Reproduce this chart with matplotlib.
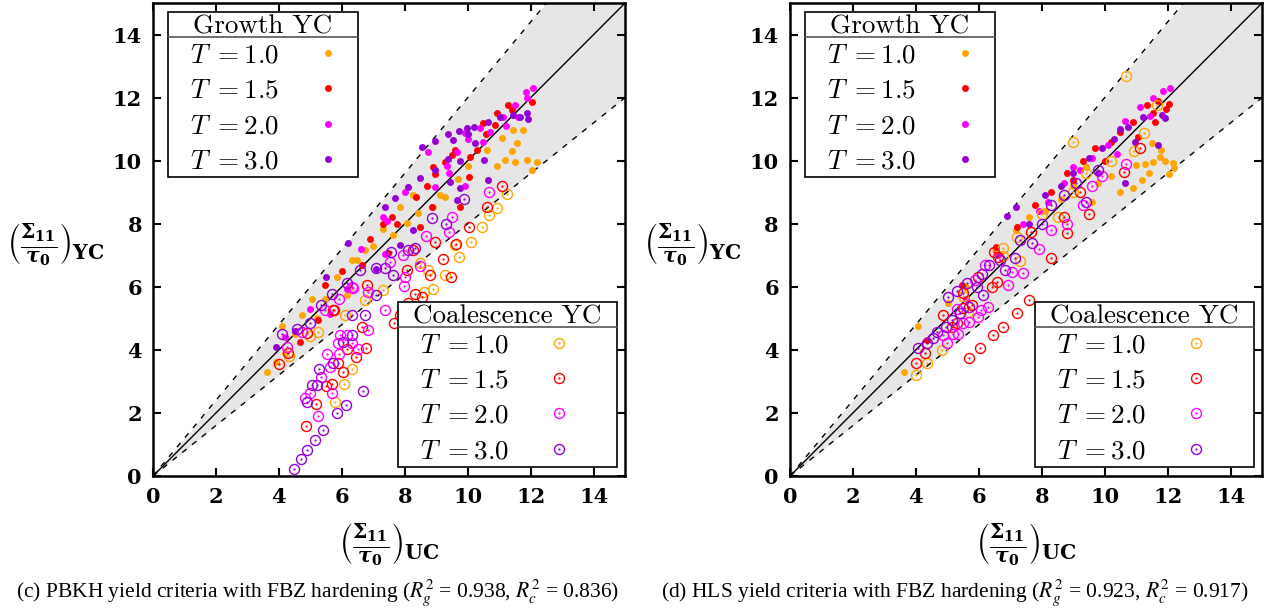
import matplotlib
matplotlib.use("Agg")
import matplotlib.pyplot as plt
import numpy as np
from matplotlib.legend_handler import HandlerTuple
from matplotlib.lines import Line2D

plt.rcParams['mathtext.fontset'] = 'cm'
plt.rcParams['font.family'] = ['DejaVu Serif']

temps = ["1.0", "1.5", "2.0", "3.0"]
colors = ["#FFA500", "#FF0000", "#FF00FF", "#9400D3"]

# (c) PBKH - growth yield criteria, (x, y) per temperature
pbkh_growth = {
    "1.0": [(3.62, 3.3), (3.9, 3.6), (4.19, 3.9), (4.1, 4.76), (4.5, 4.5), (4.75, 5.1), (5.05, 5.62),
            (5.46, 5.62), (5.2, 5.0), (5.84, 6.32), (6.16, 5.75), (6.25, 5.97), (6.32, 6.86), (6.48, 6.86),
            (6.73, 7.17), (7.0, 7.3), (7.3, 7.84), (7.62, 7.65), (7.84, 8.54), (8.06, 8.03), (8.25, 8.92),
            (8.41, 8.35), (8.89, 8.54), (9.11, 8.92), (9.27, 8.86), (9.68, 9.43), (10.0, 9.84), (10.6, 10.35),
            (10.92, 9.84), (11.1, 10.73), (11.17, 10.03), (11.4, 10.3), (11.49, 9.97), (11.43, 10.98),
            (11.56, 10.57), (11.75, 10.98), (11.87, 10.03), (12.03, 9.71), (12.19, 9.97)],
    "1.5": [(4.67, 4.25), (5.24, 4.95), (5.46, 6.06), (6.0, 6.5), (6.63, 6.7), (6.9, 7.5), (7.46, 7.08),
            (7.3, 8.0), (7.59, 8.22), (7.75, 8.0), (8.35, 8.86), (8.48, 7.9), (8.7, 9.21), (8.86, 8.54),
            (8.89, 9.81), (8.95, 9.59), (9.27, 9.97), (9.49, 10.19), (9.59, 10.35), (9.75, 8.54), (10.03, 9.49),
            (10.06, 10.13), (10.29, 10.35), (10.48, 11.21), (10.57, 10.86), (10.86, 11.14), (10.92, 11.52),
            (11.27, 11.75), (11.4, 11.6), (12.03, 11.87)],
    "2.0": [(4.2, 4.4), (5.0, 5.3), (5.62, 5.14), (6.16, 5.94), (6.6, 7.2), (7.37, 7.05), (7.3, 8.22),
            (7.45, 8.1), (8.0, 9.0), (8.73, 10.29), (8.95, 9.17), (9.33, 9.84), (9.4, 9.6), (9.65, 10.29),
            (9.9, 10.89), (9.9, 9.2), (10.0, 10.7), (10.38, 11.05), (10.5, 10.6), (10.7, 10.9), (11.11, 11.4),
            (11.2, 11.1), (11.49, 11.78), (11.6, 11.4), (11.84, 12.19), (11.87, 12.0), (12.06, 12.32)],
    "3.0": [(3.9, 4.1), (4.5, 4.6), (5.5, 6.3), (6.2, 7.4), (7.1, 6.57), (7.37, 8.54), (7.68, 8.83),
            (7.84, 7.33), (8.1, 9.17), (8.25, 7.81), (8.48, 9.46), (8.54, 10.44), (8.95, 10.63), (8.95, 9.71),
            (9.37, 10.83), (9.37, 10.06), (9.43, 9.33), (9.52, 10.67), (9.65, 8.76), (9.71, 10.95), (9.75, 10.0),
            (9.75, 9.14), (9.97, 11.05), (10.0, 10.83), (10.19, 11.08), (10.22, 10.57), (10.51, 10.03),
            (10.63, 11.24), (10.63, 9.4), (11.02, 11.37), (11.43, 11.46), (11.65, 11.4), (11.87, 11.52),
            (11.9, 11.33)],
}
# (c) PBKH - coalescence yield criteria
pbkh_coal = {
    "1.0": [(4.32, 3.81), (4.98, 4.45), (5.24, 4.57), (5.78, 2.35), (6.06, 2.92), (6.32, 3.4), (6.1, 5.1),
            (6.73, 5.59), (7.3, 5.9), (8.48, 6.76), (8.73, 6.54), (8.89, 5.94), (8.6, 5.85), (9.27, 6.38),
            (9.59, 7.33), (9.71, 6.95), (10.1, 7.43), (10.44, 7.9), (10.67, 8.29), (10.92, 8.51), (11.24, 8.95)],
    "1.5": [(4.0, 3.56), (4.29, 3.9), (4.89, 4.54), (4.86, 1.59), (5.17, 2.29), (5.49, 2.86), (5.68, 2.92),
            (6.03, 3.3), (5.87, 3.59), (6.44, 3.78), (6.16, 4.03), (6.76, 4.06), (6.63, 4.73), (5.71, 5.27),
            (5.75, 5.27), (6.79, 6.06), (7.65, 4.86), (7.84, 5.1), (8.1, 5.49), (8.32, 5.78), (8.54, 5.68),
            (8.79, 6.38), (8.06, 6.54), (8.25, 7.17), (9.21, 6.89), (9.46, 6.32), (8.95, 7.43), (9.62, 7.37),
            (10.03, 7.9), (10.6, 8.54), (11.1, 9.2)],
    "2.0": [(4.25, 4.1), (4.73, 4.57), (5.46, 5.27), (5.9, 5.62), (6.32, 6.0), (6.35, 5.97), (6.83, 5.84),
            (7.37, 5.27), (8.0, 6.32), (7.97, 6.03), (6.83, 4.63), (5.94, 4.48), (6.16, 4.48), (6.32, 4.22),
            (5.87, 4.22), (6.51, 4.03), (5.9, 3.87), (5.52, 3.87), (5.62, 3.46), (5.33, 3.14), (4.98, 2.63),
            (5.68, 2.63), (4.83, 2.48), (5.24, 1.9), (7.52, 6.79), (7.94, 7.02), (8.48, 6.67), (8.67, 7.62),
            (9.4, 7.75), (9.49, 8.22), (10.67, 9.02)],
    "3.0": [(4.1, 4.5), (4.57, 4.67), (4.98, 4.86), (5.33, 5.43), (5.68, 5.78), (6.16, 6.13), (6.57, 6.54),
            (7.1, 5.75), (6.32, 5.1), (6.73, 5.1), (6.32, 4.48), (6.03, 4.25), (5.71, 3.59), (5.27, 3.4),
            (5.05, 2.89), (5.2, 2.89), (4.89, 2.35), (6.67, 2.7), (6.13, 2.25), (5.84, 2.0), (5.4, 1.46),
            (5.14, 1.14), (4.89, 0.83), (4.7, 0.54), (4.48, 0.22), (7.1, 6.6), (7.37, 6.6), (7.62, 6.38),
            (7.56, 7.11), (8.1, 7.17), (8.32, 7.24), (8.86, 8.19), (9.3, 8.0), (9.87, 8.79)],
}

# (d) HLS - growth yield criteria
hls_growth = {
    "1.0": [(3.62, 3.3), (4.06, 4.76), (5.02, 5.5), (5.6, 6.0), (6.5, 7.2), (7.17, 7.81), (7.6, 8.2),
            (8.1, 8.4), (8.6, 8.8), (9.0, 9.2), (9.4, 9.8), (9.6, 8.7), (9.8, 9.3), (10.2, 9.5), (10.5, 9.0),
            (10.89, 9.14), (11.17, 9.4), (11.4, 9.62), (12.03, 9.59), (10.98, 9.87), (11.27, 9.9),
            (11.52, 9.97), (11.9, 10.0), (12.16, 9.94), (12.19, 9.78), (11.75, 10.13), (11.78, 10.35),
            (11.49, 10.57)],
    "1.5": [(4.35, 4.3), (5.46, 6.06), (6.54, 7.27), (7.2, 7.9), (7.8, 8.6), (8.3, 9.0), (8.8, 9.6),
            (9.0, 9.4), (9.3, 10.0), (9.7, 10.4), (10.0, 10.0), (10.2, 10.6), (10.5, 10.9), (10.89, 11.24),
            (11.05, 10.76), (11.33, 11.78), (11.52, 11.52), (11.59, 11.24), (11.68, 11.9), (11.94, 11.65),
            (12.03, 11.81)],
    "2.0": [(5.6, 5.6), (6.6, 7.0), (7.4, 8.0), (7.9, 8.4), (8.2, 8.7), (8.7, 9.3), (9.0, 9.8), (9.2, 9.7),
            (9.6, 10.1), (10.1, 10.5), (10.4, 10.2), (10.63, 11.27), (11.11, 11.71), (11.43, 11.43),
            (11.52, 12.0), (11.84, 12.22), (12.06, 12.29)],
    "3.0": [(6.89, 8.25), (7.17, 8.54), (7.6, 8.0), (8.1, 8.9), (8.6, 9.2), (9.0, 9.6), (9.5, 10.1),
            (9.8, 9.6), (9.9, 10.4), (10.3, 10.7), (10.5, 11.0), (10.63, 9.3), (10.73, 11.08), (10.95, 10.6),
            (11.21, 11.37), (11.68, 10.51), (11.81, 11.46), (11.9, 11.35)],
}
# (d) HLS - coalescence yield criteria
hls_coal = {
    "1.0": [(4.0, 3.21), (4.35, 3.59), (4.83, 4.0), (5.49, 5.7), (5.65, 5.2), (6.76, 7.24), (6.76, 6.98),
            (7.21, 7.59), (7.3, 6.83), (8.0, 8.3), (8.5, 8.2), (9.0, 9.0), (9.0, 10.6), (9.4, 9.6),
            (10.2, 10.0), (10.67, 12.67), (10.92, 10.32), (11.24, 10.89), (11.65, 11.75)],
    "1.5": [(4.0, 3.59), (4.29, 3.9), (4.86, 5.11), (5.14, 4.73), (5.3, 4.86), (5.49, 5.33), (5.49, 5.81),
            (5.78, 5.43), (5.97, 6.32), (6.41, 6.0), (6.57, 6.16), (6.6, 6.95), (6.48, 7.11), (7.65, 7.75),
            (7.59, 5.59), (7.21, 5.17), (6.76, 4.73), (6.44, 4.48), (6.03, 4.06), (5.68, 3.75), (8.3, 6.9),
            (8.7, 8.2), (8.8, 7.7), (9.2, 9.0), (9.5, 8.3), (10.6, 9.65), (11.11, 10.41)],
    "2.0": [(4.86, 4.48), (4.98, 4.22), (5.17, 4.51), (5.33, 4.51), (5.3, 5.3), (5.49, 4.86), (5.68, 4.89),
            (5.97, 5.05), (6.06, 5.27), (6.29, 5.37), (5.87, 6.22), (6.2, 6.7), (6.92, 6.06), (7.05, 6.48),
            (7.4, 6.44), (7.9, 7.2), (8.3, 7.8), (8.8, 8.0), (9.3, 8.6), (9.6, 9.2), (9.9, 9.5), (10.67, 9.9)],
    "3.0": [(4.06, 4.06), (4.35, 4.22), (4.54, 4.38), (4.67, 4.57), (4.95, 4.73), (5.14, 4.95), (5.4, 5.17),
            (5.68, 5.37), (5.02, 5.68), (5.3, 5.87), (5.62, 6.13), (5.94, 6.0), (6.13, 5.75), (6.1, 6.41),
            (6.32, 6.7), (6.83, 6.54), (6.67, 6.86), (7.14, 6.92), (7.3, 7.49), (7.7, 7.4), (8.0, 8.0),
            (8.3, 8.6), (8.7, 8.9), (9.1, 9.3), (9.4, 8.7), (9.8, 9.7)],
}

captions = [r"(c) PBKH yield criteria with FBZ hardening ($R_g^2$ = 0.938, $R_c^2$ = 0.836)",
            r"(d) HLS yield criteria with FBZ hardening ($R_g^2$ = 0.923, $R_c^2$ = 0.917)"]
caption_x = [318 / 1276, 955 / 1276]

band_hi = 1.2
band_lo = 0.8
ticks = [0, 2, 4, 6, 8, 10, 12, 14]
LEG_FS = 19.5


def add_title_rule(fig, leg):
    fig.canvas.draw()
    r = fig.canvas.get_renderer()
    box = leg.get_frame().get_window_extent(r)
    tb = leg.get_title().get_window_extent(r)
    y = tb.y0 + 1
    inv = fig.transFigure.inverted()
    (x0, yy), (x1, _) = inv.transform([(box.x0, y), (box.x1, y)])
    fig.add_artist(Line2D([x0, x1], [yy, yy], color="#555555", lw=1.2, zorder=10))


def axis_label(sub):
    return (r"$\left(\frac{\mathbf{\Sigma_{11}}}{\mathbfit{\tau}_{\mathbf{0}}}\right)_{\mathbf{%s}}$" % sub)


def draw_panel(fig, ax, growth, coal):
    xs = np.linspace(0, 15, 2)
    ax.fill_between(xs, band_lo * xs, band_hi * xs, color="#E6E6E6", zorder=0, lw=0)
    ax.plot(xs, xs, color="black", lw=1.0, zorder=1)
    ax.plot(xs, band_hi * xs, color="black", lw=1.0, ls=(0, (4, 5)), zorder=1)
    ax.plot(xs, band_lo * xs, color="black", lw=1.0, ls=(0, (4, 5)), zorder=1)

    g_handles, c_handles = [], []
    for t, c in zip(temps, colors):
        p = np.array(growth[t])
        h, = ax.plot(p[:, 0], p[:, 1], "o", color=c, ms=5, mew=0, zorder=3)
        g_handles.append(h)
    for t, c in zip(temps, colors):
        p = np.array(coal[t])
        h1, = ax.plot(p[:, 0], p[:, 1], "o", mfc="none", mec=c, ms=7.2, mew=1.0, zorder=4)
        h2, = ax.plot(p[:, 0], p[:, 1], "o", color=c, ms=1.6, mew=0, zorder=4)
        c_handles.append((h1, h2))

    ax.set_xlim(0, 15)
    ax.set_ylim(0, 15)
    ax.set_xticks(ticks)
    ax.set_yticks(ticks)
    ax.set_xticklabels([str(v) for v in ticks], fontweight="bold")
    ax.set_yticklabels([str(v) for v in ticks], fontweight="bold")
    ax.tick_params(direction="in", length=6, width=1.5, labelsize=15, pad=8,
                   top=True, right=True)
    for s in ax.spines.values():
        s.set_linewidth(1.8)

    ax.set_ylabel(axis_label("YC"), rotation=0, fontsize=21, va="center",
                  math_fontfamily="dejavuserif")
    ax.yaxis.set_label_coords(-0.205, 0.488)
    ax.set_xlabel(axis_label("UC"), fontsize=21, va="center", math_fontfamily="dejavuserif")
    ax.xaxis.set_label_coords(0.5, -0.146)

    labels = [r"$\;\;\;T\;=%s$" % t for t in temps]
    common = dict(markerfirst=False, frameon=True, fancybox=False, framealpha=1,
                  edgecolor="black", fontsize=LEG_FS, borderpad=0.1,
                  title_fontproperties={"family": "cmr10", "size": LEG_FS},
                  labelspacing=0.31, borderaxespad=0)
    leg1 = ax.legend(g_handles, labels, title="Growth YC", loc="upper left",
                     bbox_to_anchor=(0.032, 0.981), handlelength=2.0, handletextpad=0.8,
                     **common)
    leg1.get_frame().set_linewidth(1.2)
    leg1._legend_box.sep = 2
    ax.add_artist(leg1)
    leg2 = ax.legend(c_handles, labels, title="Coalescence YC", loc="lower right",
                     bbox_to_anchor=(0.983, 0.019), handlelength=4.1, handletextpad=-0.2,
                     handler_map={tuple: HandlerTuple(ndivide=1, pad=0)}, **common)
    leg2.get_frame().set_linewidth(1.2)
    leg2._legend_box.sep = 2
    return leg1, leg2


fig = plt.figure(figsize=(12.76, 6.13), dpi=100)
ax1 = fig.add_axes([0.1199, 0.2235, 0.370, 0.7716])
ax2 = fig.add_axes([0.6191, 0.2235, 0.370, 0.7716])

legs = []
legs += draw_panel(fig, ax1, pbkh_growth, pbkh_coal)
legs += draw_panel(fig, ax2, hls_growth, hls_coal)
for cx, cap in zip(caption_x, captions):
    fig.text(cx, 1 - 593 / 613, cap, ha="center", va="center",
             family="Liberation Serif", math_fontfamily="stix", fontsize=15.5)
for lg in legs:
    add_title_rule(fig, lg)

fig.savefig("out.png", dpi=100)
